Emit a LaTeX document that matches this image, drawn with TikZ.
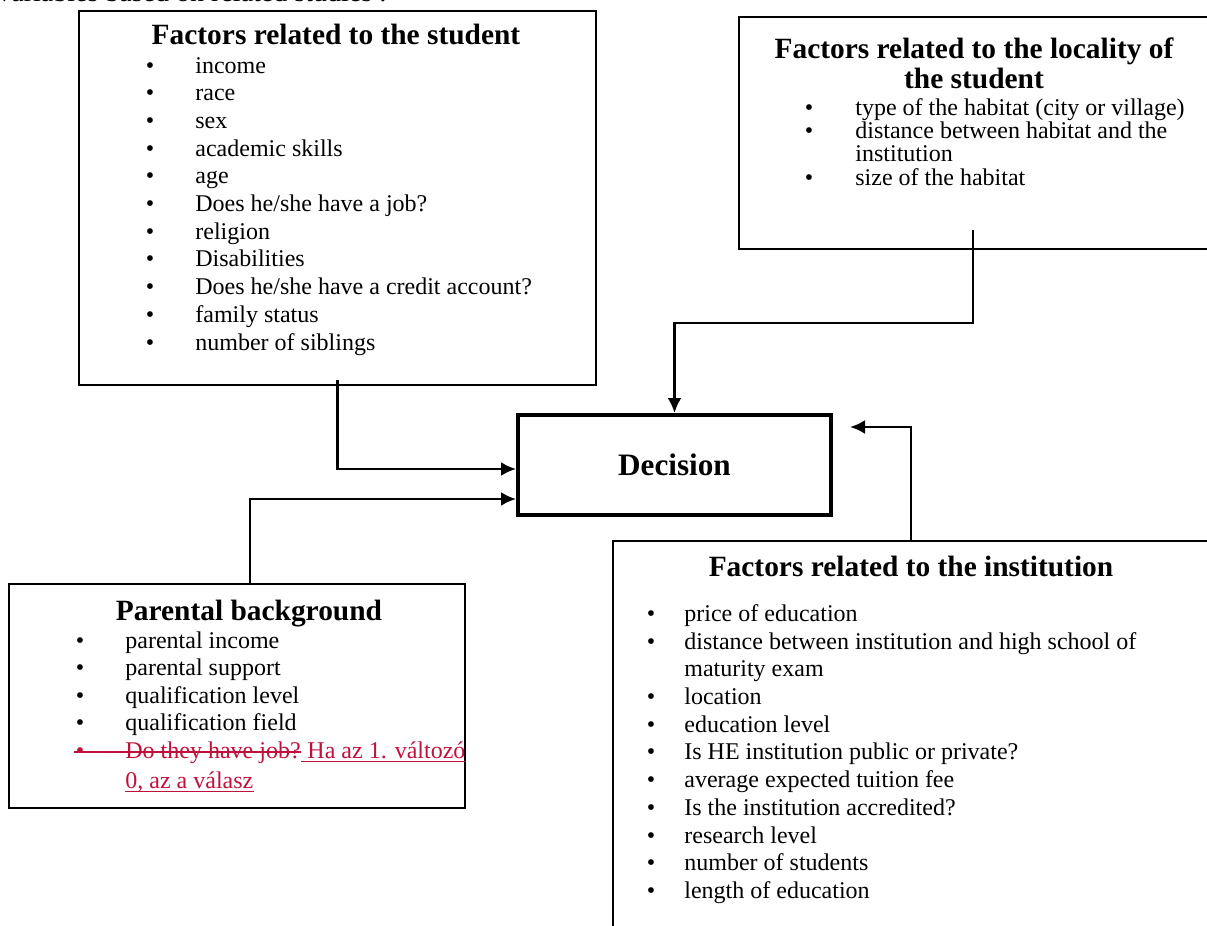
\documentclass[tikz,border=0pt]{standalone}
\usepackage{fontspec}
\setmainfont{Liberation Serif}
\usetikzlibrary{arrows.meta}
\definecolor{trackred}{RGB}{192,16,60}

\begin{document}
\begin{tikzpicture}[x=0.5pt, y=-0.5pt,
	factorbox/.style={draw, line width=1pt, anchor=north west, inner sep=0pt},
	decbox/.style={draw, line width=2pt, inner sep=0pt, font=\fontsize{15.6}{18}\selectfont\bfseries},
	title/.style={anchor=base, inner sep=0pt, font=\fontsize{14.7}{15.5}\selectfont\bfseries},
	item/.style={anchor=base west, inner sep=0pt, font=\fontsize{12}{13.85}\selectfont},
	bul/.style={anchor=base, inner sep=0pt, font=\fontsize{12}{13.85}\selectfont},
	track/.style={trackred, line width=0.6pt},
	link/.style={line width=1.3pt, -{Latex[length=7.5pt,width=7pt]}}]
	\useasboundingbox (0,0) rectangle (1207,926);
	\node[item, font=\fontsize{14}{15}\selectfont] (intro) at (-3,2) {variables based on related studies :};

	% the boxes
	\node[factorbox, minimum width=258.5pt, minimum height=187pt] (stud) at (78,10) {};
	\node[factorbox, minimum width=251pt, minimum height=116pt] (loc) at (738,16) {};
	\node[decbox, minimum width=156.5pt, minimum height=50pt] (dec) at (674.5,465) {Decision};
	\node[factorbox, minimum width=228pt, minimum height=112pt] (par) at (8,583) {};
	\node[factorbox, minimum width=314pt, minimum height=210pt] (inst) at (612,540) {};

	% student
	\node[title] (stitle) at (336,45) {Factors related to the student};
	\foreach \t [count=\i from 0] in {income, race, sex, academic skills, age, Does he/she have a job?, religion, Disabilities, Does he/she have a credit account?, family status, number of siblings}
	{
		\node[bul] (sb\i) at (150,73+27.7*\i) {•};
		\node[item] (si\i) at (195,73+27.7*\i) {\t};
	}

	% locality
	\node[title] (ltitle1) at (974,59) {Factors related to the locality of};
	\node[title] (ltitle2) at (974,89) {the student};
	\foreach \y/\t in {115/type of the habitat (city or village), 138/distance between habitat and the, 185/size of the habitat}
	{
		\node[bul] (lb\y) at (809,\y) {•};
		\node[item] (li\y) at (855,\y) {\t};
	}
	\node[item] (li161) at (855,161) {institution};

	% parents
	\node[title] (ptitle) at (249,620) {Parental background};
	\foreach \y/\t in {648/parental income, 675/parental support, 703/qualification level, 730/qualification field}
	{
		\node[bul] (pb\y) at (80,\y) {•};
		\node[item] (pi\y) at (125,\y) {\t};
	}
	% tracked change, struck and underlined
	\node[bul, text=trackred] (pb758) at (80,758) {•};
	\node[item, text=trackred] (ps758) at (125,758) {Do they have job?};
	\node[item, text=trackred] (pu758) at ([xshift=3pt]ps758.base east) {Ha az 1. változó};
	\node[item, text=trackred] (pi788) at (125,788) {0, az a válasz};
	\draw[track] ([xshift=-0.5pt,yshift=3pt]pb758.base west) -- ([yshift=3pt]ps758.base east);
	\draw[track] ([yshift=-1.6pt]ps758.base east) -- ([yshift=-1.6pt]pu758.base east);
	\draw[track] ([yshift=-1.6pt]pi788.base west) -- ([yshift=-1.6pt]pi788.base east);

	% institution
	\node[title] (ititle) at (911,576) {Factors related to the institution};
	\foreach \y/\t in {621/price of education, 649/distance between institution and high school of, 704/location, 732/education level, 759/Is HE institution public or private?, 787/average expected tuition fee, 815/Is the institution accredited?, 843/research level, 870/number of students, 898/length of education}
	{
		\node[bul] (ib\y) at (651,\y) {•};
		\node[item] (ii\y) at (684,\y) {\t};
	}
	\node[item] (ii676) at (684,676) {maturity exam};

	% arrows
	\draw[link] ([yshift=3pt]stud.south) |- ([yshift=-2pt]dec.west);
	\draw[link] ([xshift=6.5pt]par.north) |- ([yshift=-17pt]dec.west);
	\draw[link] ([xshift=-8.5pt,yshift=10pt]loc.south) -- ++(0,93) -| (dec.north);
	\draw[link] ([xshift=-8pt]inst.north) |- ([xshift=8.5pt,yshift=19pt]dec.east);
\end{tikzpicture}
\end{document}
